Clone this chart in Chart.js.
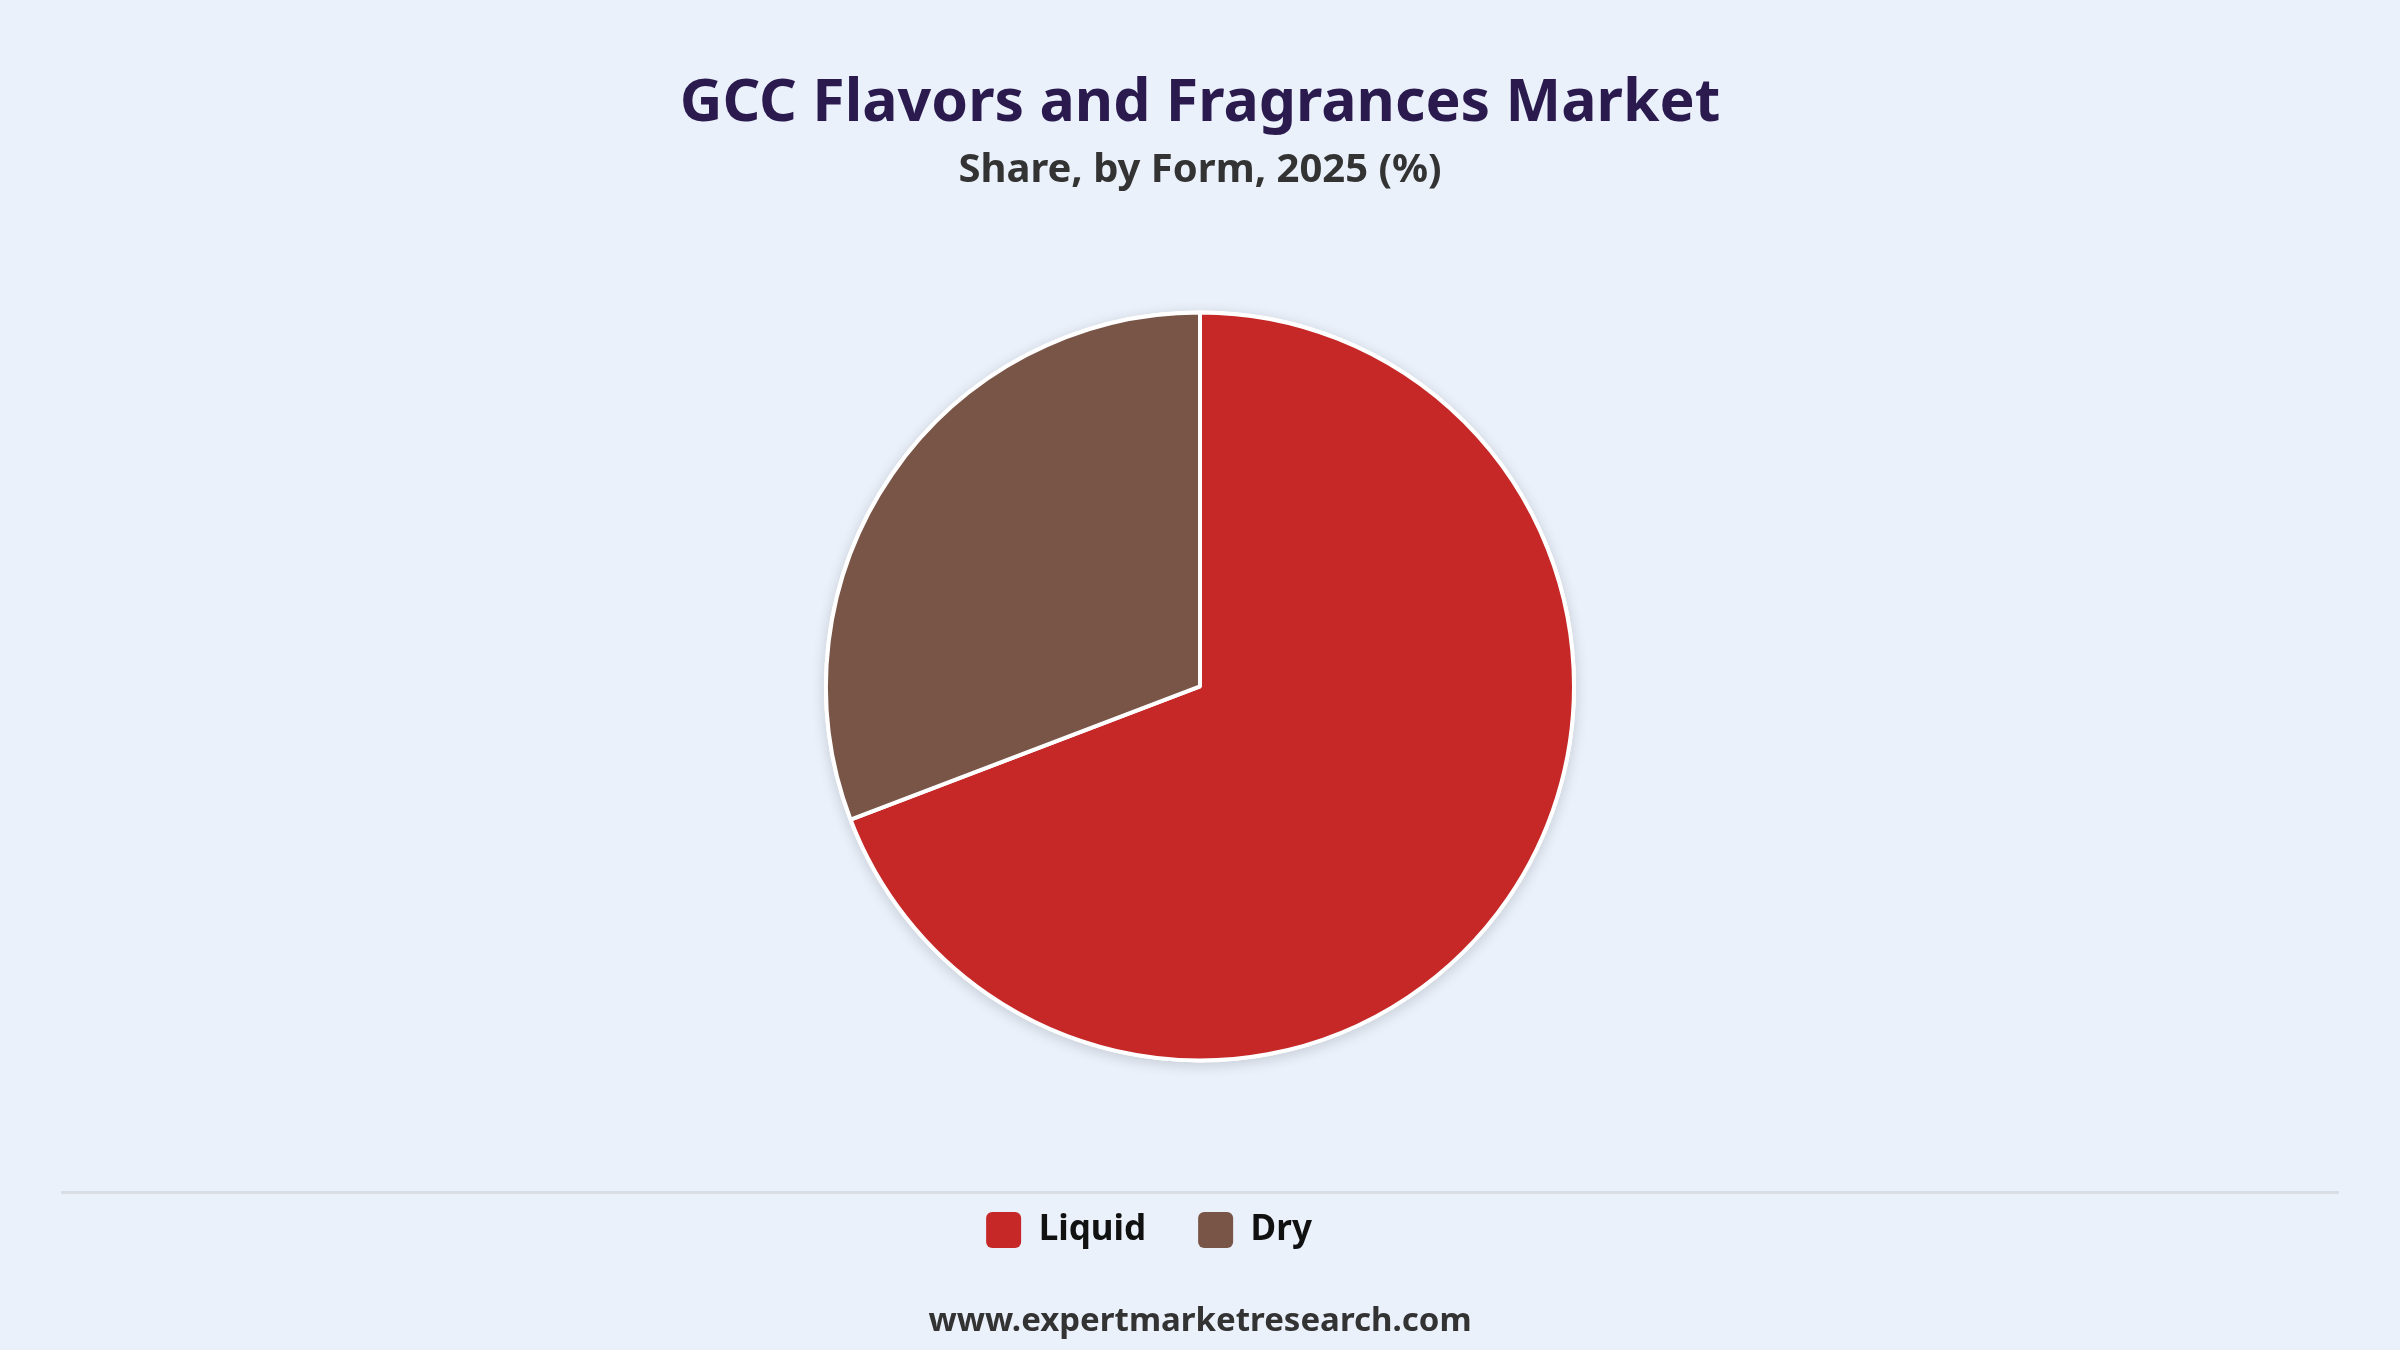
<!DOCTYPE html>
<html>
<head>
<meta charset="utf-8">
<script src="https://cdn.jsdelivr.net/npm/chart.js@4.4.1/dist/chart.umd.min.js"></script>
<style>
  html, body { margin:0; padding:0; background:#eaf1fb; }
  #wrap { position:relative; width:2400px; height:1350px; overflow:hidden; background:#eaf1fb; }
  #chart { position:absolute; left:0; top:0; width:2400px; height:1350px; }
  #sep { position:absolute; left:61px; width:2278px; top:1191px; height:3px; background:#dadde3; }
  #footer { position:absolute; left:0; width:2400px; top:1302px; line-height:34px; text-align:center;
            font-family:"Noto Sans", sans-serif; font-weight:700; font-size:33px; color:#333333; }
</style>
</head>
<body>
<div id="wrap">
  <canvas id="chart" width="2400" height="1350"></canvas>
  <div id="sep"></div>
  <div id="footer">www.expertmarketresearch.com</div>
</div>
<script>
const titleText = 'GCC Flavors and Fragrances Market';
const subtitleText = 'Share, by Form, 2025 (%)';
const categories = ['Liquid', 'Dry'];
const shares = [69.2, 30.8];
const sliceColors = ['#C62828', '#795548'];

const pieShadow = {
  id: 'pieShadow',
  beforeDatasetsDraw(chart) {
    const arc = chart.getDatasetMeta(0).data[0];
    if (!arc) return;
    const ctx = chart.ctx;
    ctx.save();
    ctx.shadowColor = 'rgba(0,0,0,0.16)';
    ctx.shadowBlur = 14;
    ctx.shadowOffsetY = 3;
    ctx.fillStyle = '#ffffff';
    ctx.beginPath();
    ctx.arc(arc.x, arc.y, arc.outerRadius + 2, 0, Math.PI * 2);
    ctx.fill();
    ctx.restore();
  }
};

const legendShift = {
  id: 'legendShift',
  afterLayout(chart) {
    const lg = chart.legend;
    if (lg) { lg.left -= 51; lg.right -= 51; }
  }
};

function build() {
  const ctx = document.getElementById('chart').getContext('2d');
  new Chart(ctx, {
    type: 'pie',
    data: {
      labels: categories,
      datasets: [{
        data: shares,
        backgroundColor: sliceColors,
        borderColor: '#ffffff',
        borderWidth: 4,
        hoverOffset: 0,
        radius: 374
      }]
    },
    options: {
      responsive: false,
      devicePixelRatio: 1,
      animation: false,
      layout: { padding: { top: 0, bottom: 92, left: 0, right: 0 } },
      plugins: {
        title: {
          display: true,
          text: titleText,
          color: '#2b1a4e',
          font: { family: '"Noto Sans", sans-serif', size: 59, weight: 'bold' },
          padding: { top: 69, bottom: 0 }
        },
        subtitle: {
          display: true,
          text: subtitleText,
          color: '#333333',
          font: { family: '"Noto Sans", sans-serif', size: 40, weight: 'bold' },
          padding: { top: 7, bottom: 18 }
        },
        legend: {
          position: 'bottom',
          labels: {
            boxWidth: 35,
            boxHeight: 36,
            useBorderRadius: true,
            borderRadius: 6,
            padding: 52,
            color: '#111111',
            font: { family: '"Noto Sans", sans-serif', size: 35, weight: 'bold' },
            generateLabels(chart) {
              const items = Chart.overrides.pie.plugins.legend.labels.generateLabels(chart);
              items.forEach(it => { it.lineWidth = 0; it.strokeStyle = 'rgba(0,0,0,0)'; });
              return items;
            }
          }
        },
        tooltip: { enabled: false }
      }
    },
    plugins: [pieShadow, legendShift]
  });
}

if (document.fonts && document.fonts.load) {
  Promise.all([
    document.fonts.load('bold 59px "Noto Sans"'),
    document.fonts.load('bold 40px "Noto Sans"')
  ]).then(build, build);
} else {
  build();
}
</script>
</body>
</html>
